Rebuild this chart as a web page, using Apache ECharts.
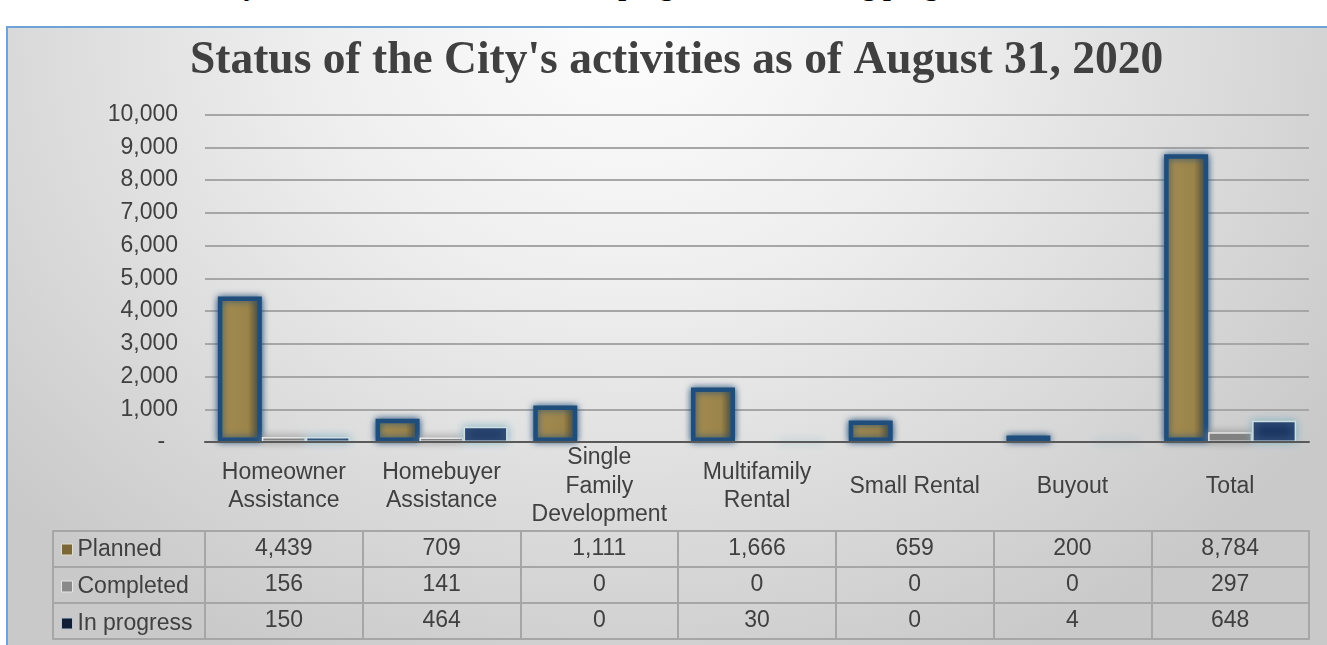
<!DOCTYPE html>
<html>
<head>
<meta charset="utf-8">
<title>Status of the City's activities</title>
<script src="https://cdn.jsdelivr.net/npm/echarts@6/dist/echarts.min.js"></script>
<style>
  html, body { margin: 0; padding: 0; background: #fff; overflow: hidden; }
  #caption {
    position: absolute; left: 50px; top: -28px; white-space: nowrap;
    font: bold 28px "Liberation Serif", "Times New Roman", serif; line-height: 28px; color: #000;
  }
  #box {
    position: absolute; left: 6px; top: 26px; width: 1321px; height: 640px;
    border-left: 2px solid #6fa3d8; border-top: 2px solid #6fa3d8;
    background: radial-gradient(ellipse 64% 110% at 47% 0%, #fdfdfd 0%, #eeeeee 38%, #dedede 65%, #c9c9c9 100%);
  }
  #chart { position: absolute; left: 0; top: 0; width: 1327px; height: 645px; }
</style>
</head>
<body>
<div id="caption">Status of the City's activities under the disaster program and housing progress</div>
<div id="box"></div>
<div id="chart"></div>
<script>
// 数据
var categories = ['Homeowner\nAssistance', 'Homebuyer\nAssistance', 'Single\nFamily\nDevelopment',
                  'Multifamily\nRental', 'Small Rental', 'Buyout', 'Total'];
var planned = [4439, 709, 1111, 1666, 659, 200, 8784];
var completed = [156, 141, 0, 0, 0, 0, 297];
var inProgress = [150, 464, 0, 30, 0, 4, 648];
var seriesNames = ['Planned', 'Completed', 'In progress'];
var yMin = 0, yMax = 10000, yStep = 1000;

var textColor = '#404040';
var lineGray = '#a6a6a6';
var sans = '"Liberation Sans", Arial, sans-serif';

function fmt(v) {
    return String(v).replace(/\B(?=(\d{3})+(?!\d))/g, ',');
}

// 零值不画（参考图里零值没有光晕）
function hideZero(arr) {
    return arr.map(function (v) {
        return v === 0 ? { value: 0, itemStyle: { opacity: 0 } } : v;
    });
}

// 表格的行线：用带偏移的类目轴画
function tableAxis(grid, data, offset, values, gap) {
    return {
        type: 'category', gridIndex: grid, position: 'bottom', offset: offset,
        data: data, boundaryGap: gap,
        axisLine: { show: true, onZero: false, lineStyle: { color: lineGray, width: 2 } },
        axisTick: { show: !!values, length: 36, interval: 0, lineStyle: { color: lineGray, width: 2 } },
        axisLabel: {
            show: !!values && grid === 0, interval: 0, margin: 18, verticalAlign: 'middle',
            fontSize: 23, fontFamily: sans, color: textColor,
            formatter: function (v, i) { return values ? fmt(values[i]) : ''; }
        },
        splitLine: { show: false }
    };
}

var rowOffsets = [89, 125, 161, 197];
var rowValues = [planned, completed, inProgress, null];
var legendCol = ['', ''];

var xAxes = [{
    type: 'category', gridIndex: 0, data: categories, z: 5,
    axisLine: { onZero: false, lineStyle: { color: '#595959', width: 2 } },
    axisTick: { length: 89, interval: 0, lineStyle: { color: lineGray, width: 2 } },
    axisLabel: {
        interval: 0, margin: 44.5, verticalAlign: 'middle', lineHeight: 28.5,
        fontSize: 23, fontFamily: sans, color: textColor
    }
}];
rowOffsets.forEach(function (off, i) {
    xAxes.push(tableAxis(0, categories, off, rowValues[i], true));
});
rowOffsets.forEach(function (off, i) {
    xAxes.push(tableAxis(1, legendCol, off, rowValues[i], false));
});

var chart = echarts.init(document.getElementById('chart'));
var option = {
    backgroundColor: 'transparent',
    animation: false,
    title: {
        text: "Status of the City's activities as of August 31, 2020",
        left: 190, top: 38, padding: 0,
        textStyle: { fontFamily: '"Liberation Serif", "Times New Roman", serif', fontWeight: 'bold', fontSize: 45.5, color: textColor }
    },
    legend: {
        orient: 'vertical', left: 61, top: 538, padding: 0, itemGap: 14,
        icon: 'rect', itemWidth: 11, itemHeight: 11, selectedMode: false,
        textStyle: { fontSize: 23, lineHeight: 22, fontFamily: sans, color: textColor },
        data: [
            { name: seriesNames[0], itemStyle: { color: '#7c6836', borderColor: '#e3dcc6', borderWidth: 1, shadowBlur: 0 } },
            { name: seriesNames[1], itemStyle: { color: '#8a8a8a', borderColor: '#e6e6e6', borderWidth: 1, shadowBlur: 0 } },
            { name: seriesNames[2], itemStyle: { color: '#111e38', borderColor: '#b8c4d0', borderWidth: 1, shadowBlur: 0 } }
        ]
    },
    grid: [
        { left: 205, width: 1104, top: 114.5, height: 327.5 },
        { left: 53, width: 152, top: 114.5, height: 327.5 }
    ],
    xAxis: xAxes,
    yAxis: [{
        type: 'value', gridIndex: 0, min: yMin, max: yMax, interval: yStep,
        axisLine: { show: false }, axisTick: { show: false },
        splitLine: { lineStyle: { color: lineGray, width: 2 } },
        axisLabel: {
            margin: 27, fontSize: 23, fontFamily: sans, color: textColor,
            formatter: function (v) { return v === 0 ? '-  ' : fmt(v); }
        }
    }, {
        type: 'value', gridIndex: 1, show: false
    }],
    series: [{
        name: seriesNames[0], type: 'bar', xAxisIndex: 0, yAxisIndex: 0,
        barWidth: 44, barGap: '0%',
        itemStyle: {
            color: {
                type: 'linear', x: 0, y: 0, x2: 1, y2: 0,
                colorStops: [
                    { offset: 0, color: '#d6cba4' }, { offset: 0.07, color: '#d6cba4' },
                    { offset: 0.071, color: '#a38b50' }, { offset: 0.68, color: '#9b844a' },
                    { offset: 0.9, color: '#6c5b32' }, { offset: 0.929, color: '#6c5b32' },
                    { offset: 0.93, color: '#d6cba4' }, { offset: 1, color: '#d6cba4' }
                ]
            },
            borderColor: '#1f4e7d', borderWidth: 4.5,
            shadowBlur: 7, shadowColor: 'rgba(35,80,125,0.95)'
        },
        data: hideZero(planned)
    }, {
        name: seriesNames[1], type: 'bar', xAxisIndex: 0, yAxisIndex: 0,
        barWidth: 44, barGap: '0%',
        itemStyle: {
            color: '#7f7f7f', borderColor: '#e6e6e6', borderWidth: 1.5,
            shadowBlur: 9, shadowColor: 'rgba(140,140,140,1)'
        },
        data: hideZero(completed)
    }, {
        name: seriesNames[2], type: 'bar', xAxisIndex: 0, yAxisIndex: 0,
        barWidth: 44, barGap: '0%',
        itemStyle: {
            color: '#1c3563', borderColor: '#cfe0e4', borderWidth: 1.5,
            shadowBlur: 9, shadowColor: 'rgba(125,178,192,1)'
        },
        data: hideZero(inProgress)
    }]
};
chart.setOption(option);
</script>
</body>
</html>
